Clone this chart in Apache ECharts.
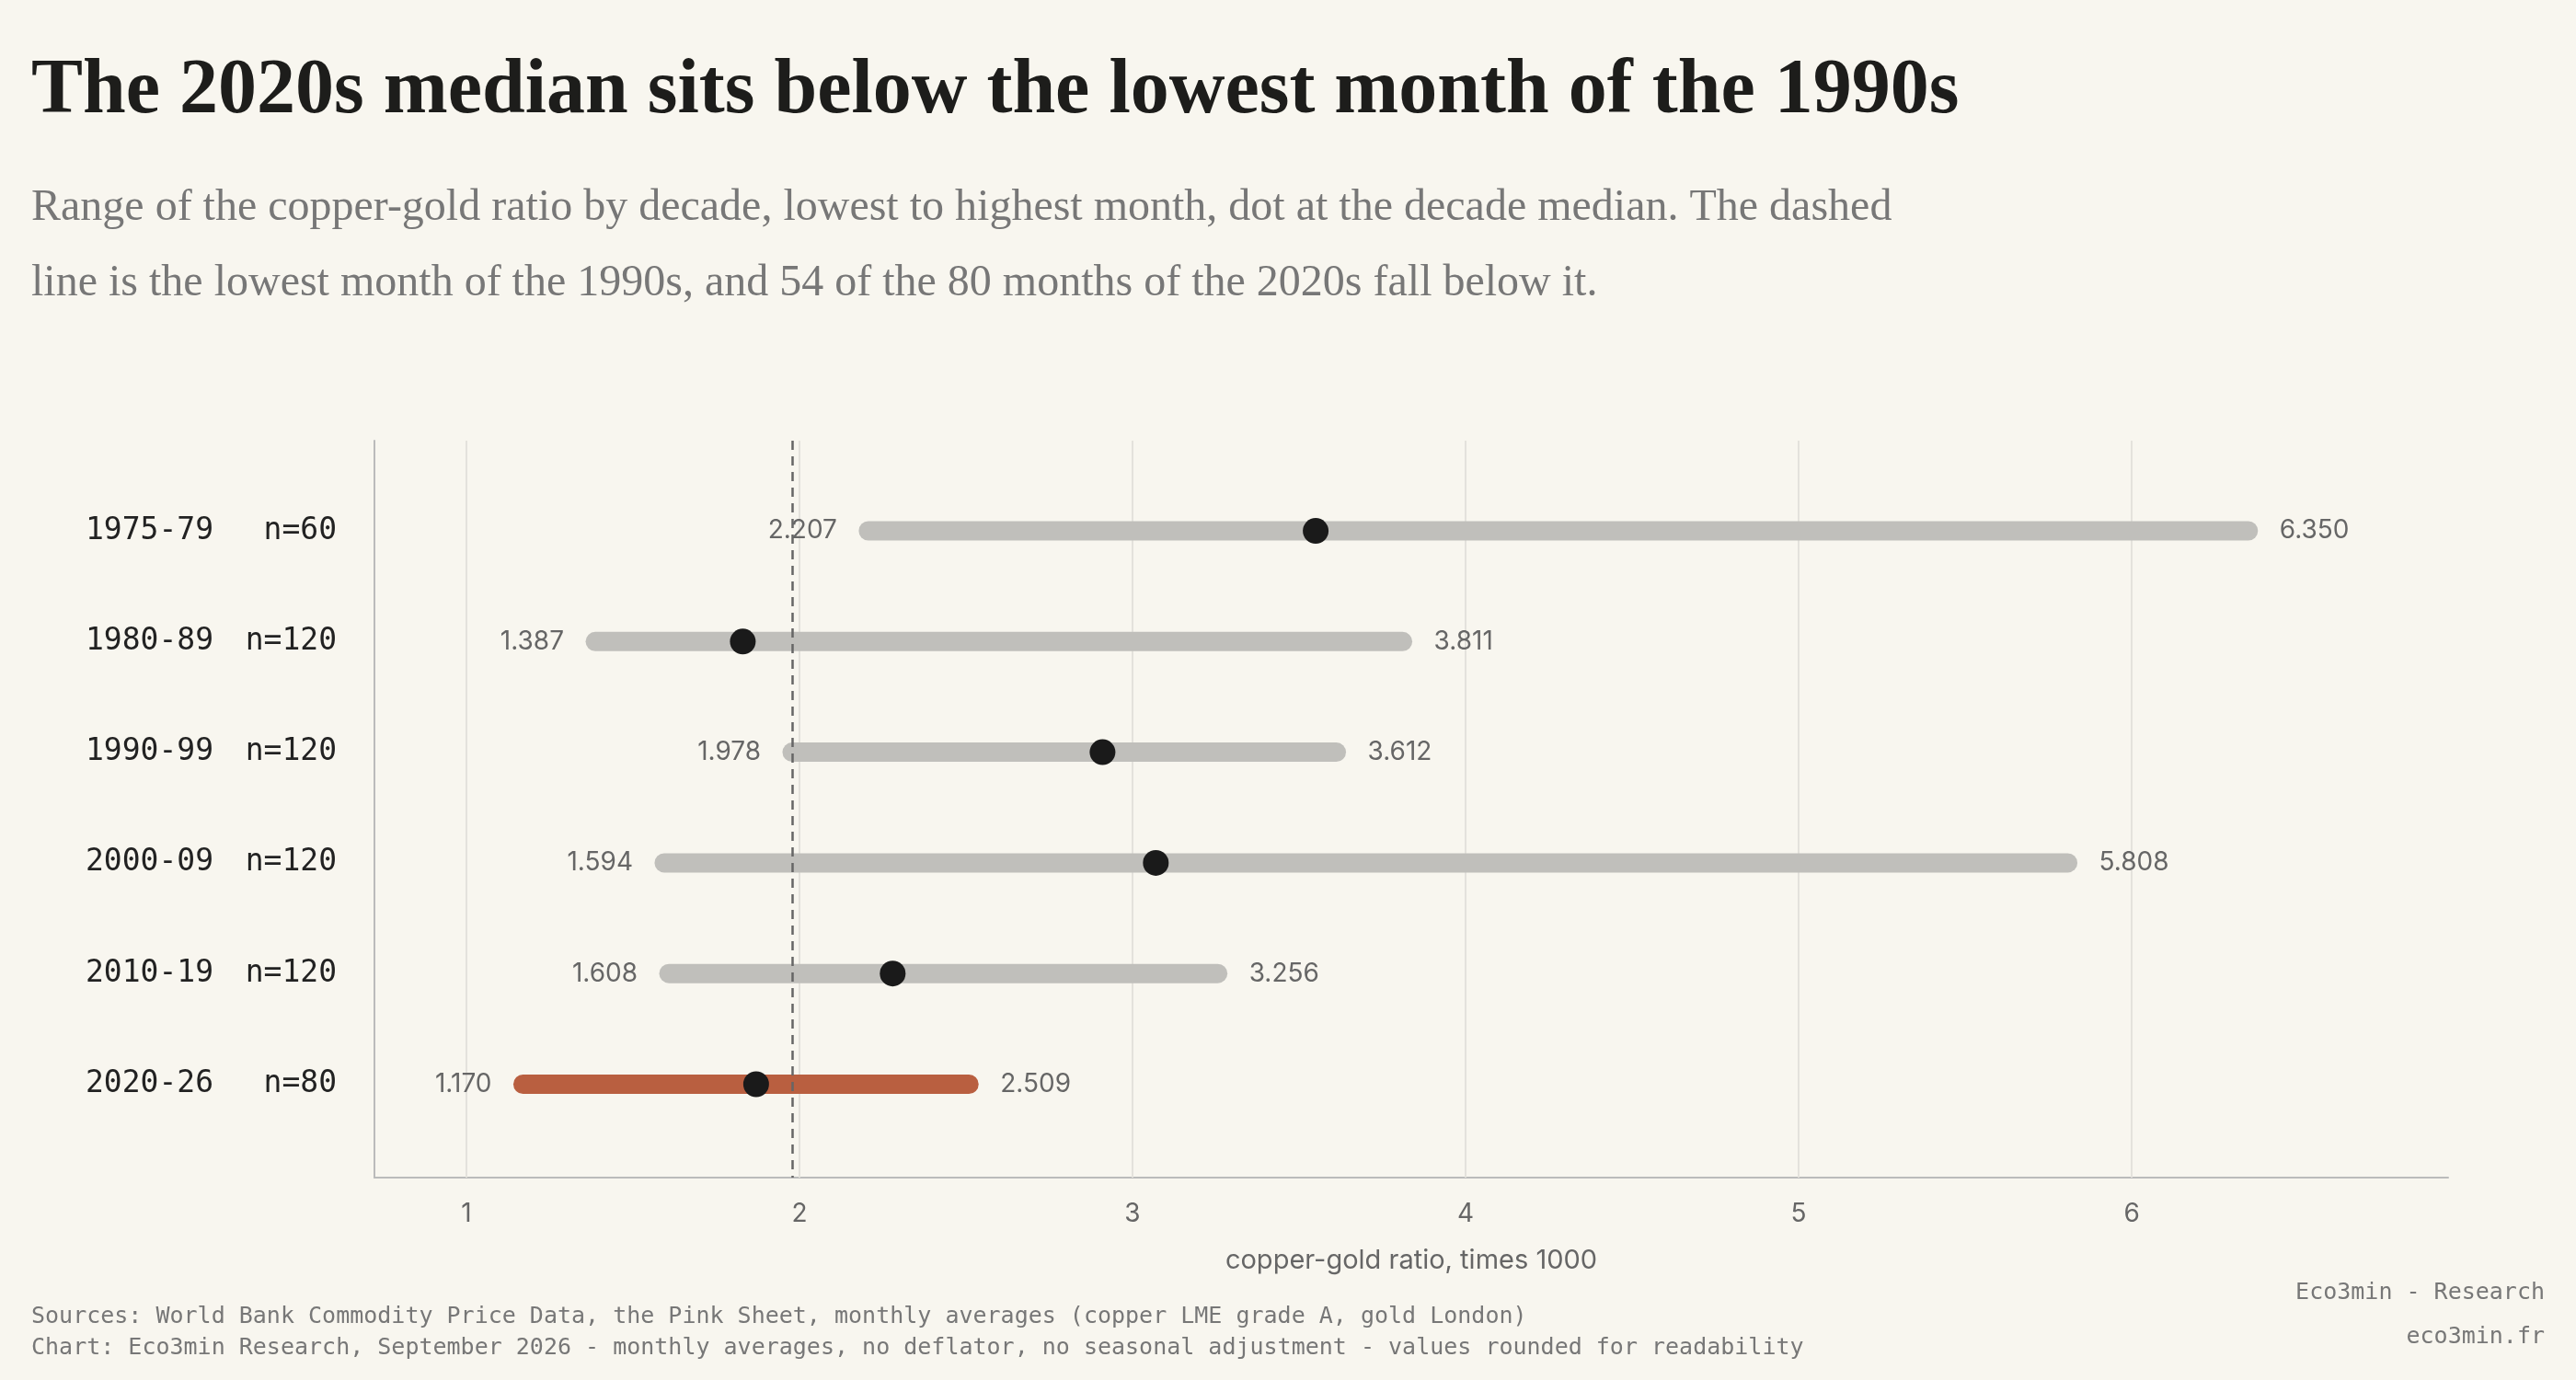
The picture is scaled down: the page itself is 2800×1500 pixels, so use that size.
<!DOCTYPE html>
<html><head><meta charset="utf-8">
<script src="https://cdn.jsdelivr.net/npm/echarts@6/dist/echarts.min.js"></script>
<style>html,body{margin:0;padding:0;background:#f8f6ef}#c{width:2800px;height:1500px}</style>
</head><body><div id="c"></div>
<script>
const decades = ['1975-79','1980-89','1990-99','2000-09','2010-19','2020-26'];
const counts = [60,120,120,120,120,80];
const lows = [2.207,1.387,1.978,1.594,1.608,1.170];
const highs = [6.350,3.811,3.612,5.808,3.256,2.509];
const medians = [3.55,1.83,2.91,3.07,2.28,1.87];
const xTicks = [1,2,3,4,5,6];
const ref1990s = 1.978;

const chart = echarts.init(document.getElementById('c'));
const mono = '"DejaVu Sans Mono", "Liberation Mono", monospace';
const sans = 'Inter, "Noto Sans", sans-serif';
const serif = '"Liberation Serif", "DejaVu Serif", serif';
const rangeData = decades.map((d,i)=>[lows[i],highs[i],i]);
chart.setOption({
  backgroundColor:'#f8f6ef',
  animation:false,
  graphic:[
    {type:'text',left:34,top:58,style:{text:'The 2020s median sits below the lowest month of the 1990s',font:'bold 84px '+serif,fill:'#1d1d1b'}},
    {type:'text',left:34,top:185,style:{text:'Range of the copper-gold ratio by decade, lowest to highest month, dot at the decade median. The dashed\nline is the lowest month of the 1990s, and 54 of the 80 months of the 2020s fall below it.',font:'48px '+serif,fill:'#777',lineHeight:82}},
    {type:'text',left:34,top:1414,style:{text:'Sources: World Bank Commodity Price Data, the Pink Sheet, monthly averages (copper LME grade A, gold London)\nChart: Eco3min Research, September 2026 - monthly averages, no deflator, no seasonal adjustment - values rounded for readability',font:'25px '+mono,fill:'#777',lineHeight:34}},
    {type:'text',right:34,top:1393,style:{text:'Eco3min - Research',font:'25px '+mono,fill:'#777',align:'right'}},
    {type:'text',right:34,top:1441,style:{text:'eco3min.fr',font:'25px '+mono,fill:'#777',align:'right'}}
  ],
  grid:{left:407,right:139,top:479,bottom:220},
  xAxis:{type:'value',min:0.724,max:6.95,
    axisLine:{show:true,onZero:false,lineStyle:{color:'#bbb',width:2}},axisTick:{show:false},splitLine:{show:false},
    axisLabel:{customValues:xTicks,color:'#666',fontSize:28,fontFamily:sans,margin:26},
    name:'copper-gold ratio, times 1000',nameLocation:'middle',nameGap:76,
    nameTextStyle:{color:'#666',fontSize:29,fontFamily:sans}},
  yAxis:{type:'value',inverse:true,min:-0.815,max:5.844,
    axisLine:{show:true,onZero:false,lineStyle:{color:'#bbb',width:2}},axisTick:{show:false},splitLine:{show:false},
    axisLabel:{customValues:[0,1,2,3,4,5],margin:41,
      formatter:v=>'{a|'+decades[v]+'}{b|n='+counts[v]+'}',
      rich:{a:{width:180,align:'right',fontFamily:mono,fontSize:33,color:'#222'},
            b:{width:134,align:'right',fontFamily:mono,fontSize:33,color:'#222'}}}},
  series:[
    {type:'custom',data:rangeData,encode:{x:[0,1],y:2},z:2,
      renderItem:(params,api)=>{
        const i=api.value(2);
        const a=api.coord([api.value(0),i]), b=api.coord([api.value(1),i]);
        const col=i===5?'#b95f40':'#c0bfbb';
        return {type:'group',children:[
          {type:'line',shape:{x1:a[0],y1:a[1],x2:b[0],y2:b[1]},style:{stroke:col,lineWidth:21,lineCap:'round'}},
          {type:'text',style:{x:a[0]-34,y:a[1],text:lows[i].toFixed(3),align:'right',verticalAlign:'middle',font:'28px '+sans,fill:'#666'}},
          {type:'text',style:{x:b[0]+34,y:b[1],text:highs[i].toFixed(3),align:'left',verticalAlign:'middle',font:'28px '+sans,fill:'#666'}}
        ]};
      }},
    {type:'scatter',data:medians.map((m,i)=>[m,i]),symbolSize:28,z:5,itemStyle:{color:'#1a1a1a',opacity:1},
      markLine:{silent:true,symbol:'none',label:{show:false},z:1,
        lineStyle:{color:'#e4e2dc',width:2,type:'solid'},
        data:xTicks.map(t=>({xAxis:t}))}},
    {type:'scatter',data:[],z:4,
      markLine:{silent:true,symbol:'none',label:{show:false},
        lineStyle:{color:'#666',width:2.5,type:[10,7]},data:[{xAxis:ref1990s}]}}
  ]
});
</script></body></html>
